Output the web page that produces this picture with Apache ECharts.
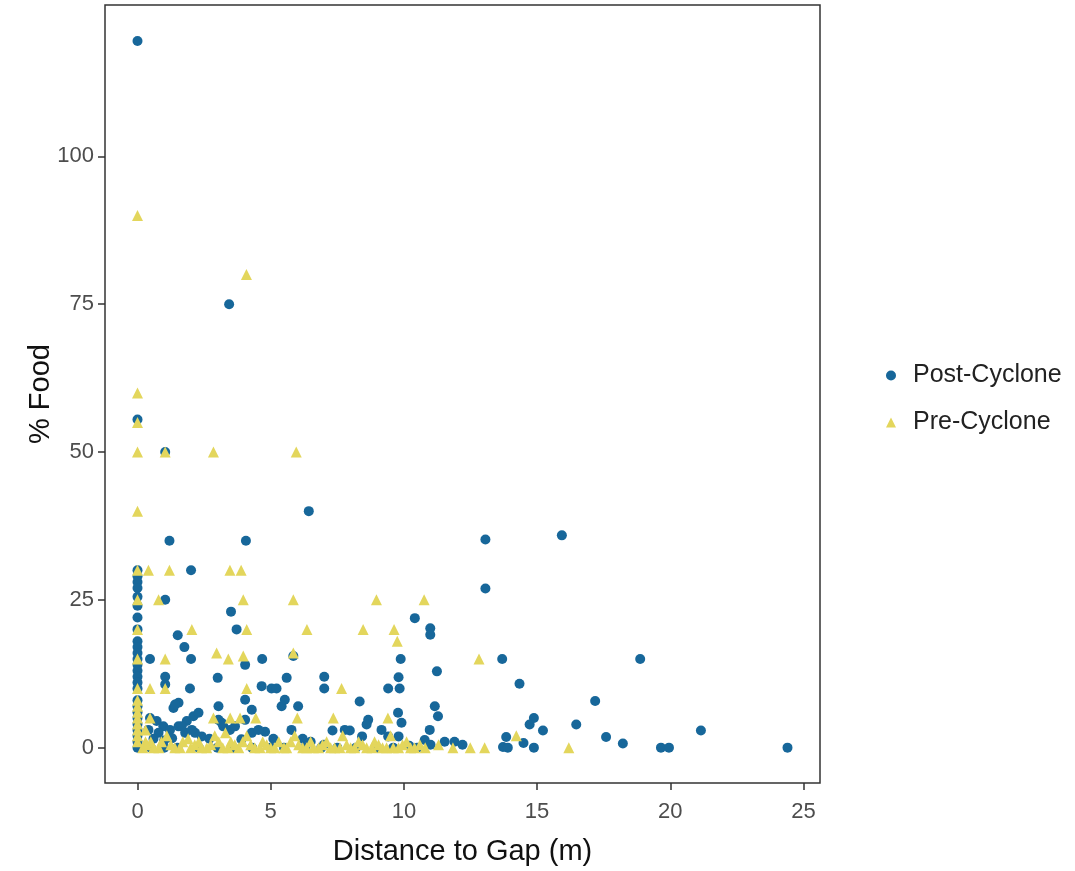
<!DOCTYPE html>
<html>
<head>
<meta charset="utf-8">
<script src="https://cdn.jsdelivr.net/npm/echarts@6/dist/echarts.min.js"></script>
<style>
  html, body { margin: 0; padding: 0; background: #fff; }
  #mycharts { width: 1075px; height: 871px; }
</style>
</head>
<body>
<div id="mycharts"></div>
<script>
// tick labels
var xTicks = [0, 5, 10, 15, 20, 25];
var yTicks = [0, 25, 50, 75, 100];

// Post-Cyclone points [distance, % food]
var postCyclone = [
  [0,119.5],[0,55.5],[0,30],[0,29],[0,28],[0,27],[0,25.5],[0,24],[0,22],[0,20],[0,18],[0,17],[0,16],
  [0,15],[0,14],[0,13],[0,12],[0,11],[0,10],[0,8],[0,7],[0,6],[0,5],[0,4],[0,3],[0,2],[0,1],[0,0],
  [3.44,75],[1.04,50],[6.43,40],[1.2,35],[4.07,35],[2.01,30],[1.04,25],[3.51,23],[3.72,20],[1.51,19],
  [1.76,17],[2.01,15],[0.47,15],[4.04,14],[4.68,15],[5.85,15.5],[1.04,12],[1.04,10.7],[3.01,11.8],
  [5.6,11.8],[7.01,12],[7.01,10],[1.97,10],[4.66,10.4],[5.03,10],[5.22,10],[1.54,7.6],[1.35,6.7],
  [3.04,7],[4.04,8.1],[4.29,6.4],[5.41,7],[5.53,8.1],[6.03,7],
  [0.47,5],[0.72,4.5],[0.97,3.6],[0.41,3],[0.79,2.5],[1.22,3],[1.54,3.6],[1.85,4.5],[2.1,5.3],
  [2.29,5.9],[1.79,2.5],[2.16,2.5],[2.41,1.9],[3.04,4.7],[3.22,3.6],[3.47,3],[3.66,3.6],[4.04,4.7],
  [4.29,2.5],[4.79,2.7],[5.78,3],[1.41,7.3],[1.66,3.6],[2.04,3],[3.16,4.2],[4.54,3],[0.6,1.5],
  [1.0,1.2],[1.3,1.6],[2.7,1.5],[3.9,1.4],[5.1,1.5],
  [7.32,2.9],[7.97,2.9],[8.43,1.9],[9.16,3],[9.41,1.9],[9.8,1.9],[10.97,3],[10.78,1.3],[8.34,7.8],
  [11.16,7],[11.28,5.3],[9.78,5.9],[9.91,4.2],[8.66,4.7],[8.6,3.9],[9.41,10],[9.84,10],[9.8,11.9],
  [9.88,15],[10.41,21.9],[10.99,20.2],[10.99,19.1],[11.24,12.9],[11.53,1],[6.5,1],[7.0,0.5],
  [10.2,0.3],[11.0,0.5],[6.2,1.5],[7.78,3],
  [0.5,0],[1.0,0],[1.5,0],[2.3,0],[3.0,0],[3.6,0],[4.3,0],[5.0,0],[5.5,0],[6.3,0],[6.9,0],[7.5,0],
  [8.2,0],[9.0,0],[9.6,0],[10.5,0],
  [13.06,35.2],[13.06,26.9],[15.93,35.9],[13.69,15],[18.87,15],[14.34,10.8],[17.18,7.9],[16.47,3.9],
  [14.88,5],[14.72,3.9],[15.22,2.9],[21.15,2.9],[17.59,1.8],[18.22,0.7],[19.65,0],[19.95,0],[24.4,0],
  [13.84,1.8],[13.72,0.1],[13.9,0],[14.49,0.8],[14.88,0],[11.9,1],[12.2,0.5]
];

// Pre-Cyclone points [distance, % food]
var preCyclone = [
  [0,90],[4.09,80],[0,60],[0,55],[0,50],[1.04,50],[2.85,50],[5.96,50],[0,40],[0,30],[0.41,30],
  [1.2,30],[3.47,30],[3.89,30],[0,25],[0.79,25],[3.97,25],[5.85,25],[8.97,25],[10.76,25],[0,20],
  [2.04,20],[4.1,20],[6.36,20],[8.47,20],[9.63,20],[9.75,18],[0,15],[1.04,15],[2.97,16],[3.41,15],
  [3.97,15.5],[5.85,16],[12.82,15],[0,10],[0.47,10],[1.04,10],[4.1,10],[7.66,10],[0,5],[0.47,5],
  [2.85,5],[3.48,5],[3.85,5],[4.44,5],[6.0,5],[7.35,5],[9.4,5],[14.22,2],[16.19,0],[11.84,0],
  [12.49,0],[13.03,0],
  [0,1],[0,2],[0,3],[0,4],[0,6],[0,7],[0,8],[0.3,1],[0.3,3],
  [0.2,0],[0.5,1],[0.8,0],[1.1,2],[1.4,0],[1.7,1],[2.0,0],[2.3,1],[2.6,0],[2.9,2],[3.2,0],[3.5,1],
  [3.8,0],[4.1,2],[4.4,0],[4.7,1],[5.0,0],[5.3,1],[5.6,0],[5.9,2],[6.2,0],[6.5,1],[6.8,0],[7.1,1],
  [7.4,0],[7.7,2],[8.0,0],[8.3,1],[8.6,0],[8.9,1],[9.2,0],[9.5,2],[9.8,0],[10.1,1],[10.4,0],
  [10.8,0],[11.3,0.5],[0.6,0],[1.6,0],[2.4,0],[3.4,0],[4.6,0],[5.5,0],[6.6,0],[7.6,0],[8.8,0],[9.6,0],
  [0.35,0.5],[0.9,1],[1.25,0.5],[1.9,1.5],[2.15,0.5],[2.75,0.5],[3.05,1],[3.3,2.5],[3.65,0.5],
  [3.95,1],[4.25,0.5],[4.85,0.5],[5.15,0],[5.75,1],[6.05,0.5],[6.35,0],[6.95,0.5],[7.25,0],
  [7.85,0.5],[8.15,0],[8.45,0.5],[9.05,0.5],[9.35,0],[9.95,0.5],[10.25,0],[10.6,0.5]
];

var myCharts = echarts.init(document.getElementById("mycharts"));

var option = {
  animation: false,
  textStyle: { fontFamily: "Liberation Sans, Arial, sans-serif" },
  grid: {
    left: 105,
    right: 255,
    top: 5,
    bottom: 88,
    show: true,
    borderColor: "#333",
    borderWidth: 1.5
  },
  legend: {
    orient: "vertical",
    left: 881,
    top: 358,
    itemGap: 22,
    itemWidth: 10,
    itemHeight: 10,
    textStyle: { fontSize: 25, color: "#222", padding: [0, 0, 0, 12] },
    data: [
      { name: "Post-Cyclone", icon: "circle", itemStyle: { color: "#17679a" } },
      { name: "Pre-Cyclone", icon: "triangle", itemStyle: { color: "#e3d65c" } }
    ]
  },
  xAxis: {
    type: "value",
    min: -1.22,
    max: 25.62,
    name: "Distance to Gap (m)",
    nameLocation: "middle",
    nameGap: 54,
    nameMoveOverlap: false,
    nameTextStyle: { fontSize: 29, color: "#111" },
    splitLine: { show: false },
    axisLine: { show: false, onZero: false },
    axisTick: {
      show: true,
      length: 7,
      lineStyle: { color: "#333", width: 1.5 },
      customValues: xTicks
    },
    axisLabel: {
      fontSize: 22,
      color: "#4d4d4d",
      margin: 18,
      customValues: xTicks
    }
  },
  yAxis: {
    type: "value",
    min: -5.98,
    max: 125.6,
    name: "% Food",
    nameLocation: "middle",
    nameGap: 50,
    nameMoveOverlap: false,
    nameTextStyle: { fontSize: 29, color: "#111" },
    splitLine: { show: false },
    axisLine: { show: false, onZero: false },
    axisTick: {
      show: true,
      length: 7,
      lineStyle: { color: "#333", width: 1.5 },
      customValues: yTicks
    },
    axisLabel: {
      fontSize: 22,
      color: "#4d4d4d",
      margin: 11,
      customValues: yTicks
    }
  },
  series: [
    {
      name: "Post-Cyclone",
      type: "scatter",
      symbol: "circle",
      symbolSize: 10,
      itemStyle: { color: "#17679a", opacity: 1 },
      data: postCyclone
    },
    {
      name: "Pre-Cyclone",
      type: "scatter",
      symbol: "triangle",
      symbolSize: 11,
      itemStyle: { color: "#e3d65c", opacity: 1 },
      data: preCyclone
    }
  ]
};

myCharts.setOption(option);
</script>
</body>
</html>
